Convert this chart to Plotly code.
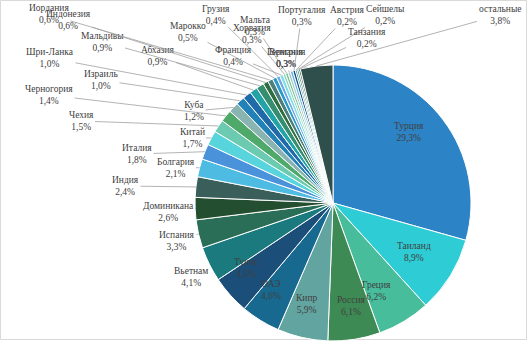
import math
import plotly.graph_objects as go

# ---- data ----
countries = ["Турция", "Таиланд", "Греция", "Россия", "Кипр", "ОАЭ", "Тунис",
             "Вьетнам", "Испания", "Доминикана", "Индия", "Болгария", "Италия",
             "Китай", "Чехия", "Черногория", "Куба", "Израиль", "Шри-Ланка",
             "Абхазия", "Мальдивы", "Индонезия", "Иордания", "Марокко", "Грузия",
             "Франция", "Хорватия", "Мальта", "Венгрия", "Германия", "Португалия",
             "Австрия", "Сейшелы", "Танзания", "остальные"]
shares = [29.3, 8.9, 6.2, 6.1, 5.9, 4.6, 4.5,
          4.1, 3.3, 2.6, 2.4, 2.1, 1.8,
          1.7, 1.5, 1.4, 1.2, 1.0, 1.0,
          0.9, 0.9, 0.6, 0.6, 0.5, 0.4,
          0.4, 0.3, 0.3, 0.3, 0.3, 0.3,
          0.2, 0.2, 0.2, 3.8]

colors = ["#2C83C5", "#2ECCD4", "#47BD9B", "#3E8A54", "#62A49F", "#17698F", "#1B4E79",
          "#1A7A7E", "#2A6E57", "#244E30", "#3A5F5B", "#4DBBE2", "#4A92DA",
          "#57D4DC", "#6BCAAF", "#4FA96A", "#8AB4B1", "#2281B6", "#1F6AA8",
          "#22A3A8", "#358E6F", "#2E6E40", "#4C7F7B", "#2E9CCB", "#6FA9E5",
          "#80E0E6", "#8ED8C2", "#7DC493", "#AACBC8", "#5DB7E8", "#1E4F86",
          "#1F8C8F", "#2B7A5E", "#2A5A36", "#2F4F4D"]

# ---- layout (pixels) ----
W, H = 528, 342
CX, CY, R = 333, 203, 138
INSIDE_FRAC = 0.85
inside_labels = {"Турция", "Таиланд", "Греция", "Россия", "Кипр", "ОАЭ", "Тунис"}
outside_label_pos = {
    "Вьетнам": (191, 276.5), "Испания": (177, 240.5), "Доминикана": (168, 211.5),
    "Индия": (125.5, 186), "Болгария": (175.5, 167.5), "Италия": (137, 154),
    "Китай": (192, 138), "Чехия": (81, 121), "Черногория": (49, 95),
    "Куба": (194, 111), "Израиль": (101, 80), "Шри-Ланка": (50, 58),
    "Абхазия": (157.5, 56), "Мальдивы": (102, 41.5), "Индонезия": (68, 19.5),
    "Иордания": (49, 14.5), "Марокко": (188, 32), "Грузия": (215.5, 14.5),
    "Франция": (233, 56), "Хорватия": (251.5, 34), "Мальта": (255, 26),
    "Венгрия": (286, 58), "Германия": (286, 58), "Португалия": (301.5, 16),
    "Австрия": (347, 16), "Сейшелы": (385, 15), "Танзания": (366.5, 38),
    "остальные": (500, 15),
}

FONT = dict(family="Liberation Serif, Times New Roman, serif", size=9.5, color="#404040")

def fmt(v):
    return f"{v:.1f}".replace(".", ",") + "%"

fig = go.Figure()
fig.add_trace(go.Pie(
    labels=countries, values=shares, sort=False, direction="clockwise", rotation=0,
    marker=dict(colors=colors, line=dict(color="white", width=1)),
    textinfo="none", hoverinfo="skip", showlegend=False,
    domain=dict(x=[(CX - R) / W, (CX + R) / W],
                y=[(H - CY - R) / H, (H - CY + R) / H]),
))

total = sum(shares)
annotations = []
cum = 0.0
for name, v in zip(countries, shares):
    theta = 2 * math.pi * (cum + v / 2) / total
    cum += v
    text = f"{name}<br>{fmt(v)}"
    if name in inside_labels:
        px = CX + INSIDE_FRAC * R * math.sin(theta)
        py = CY - INSIDE_FRAC * R * math.cos(theta)
        annotations.append(dict(x=px / W, y=1 - py / H, xref="paper", yref="paper",
                                text=text, showarrow=False, font=FONT, align="center"))
    else:
        tx = CX + R * math.sin(theta)
        ty = CY - R * math.cos(theta)
        lx, ly = outside_label_pos[name]
        annotations.append(dict(x=tx / W, y=1 - ty / H, xref="paper", yref="paper",
                                ax=lx - tx, ay=ly - ty, axref="pixel", ayref="pixel",
                                text=text, showarrow=True, arrowhead=0, arrowwidth=0.8,
                                arrowcolor="#a0a0a0", standoff=0, startstandoff=0,
                                font=FONT, align="center"))

fig.update_layout(
    width=W, height=H, margin=dict(l=0, r=0, t=0, b=0),
    paper_bgcolor="white", plot_bgcolor="white",
    annotations=annotations,
    shapes=[dict(type="rect", xref="paper", yref="paper", x0=0.5 / W, x1=(W - 1.5) / W,
                 y0=1 - 339.5 / H, y1=1 - 0.5 / H, line=dict(color="#d9d9d9", width=1),
                 layer="below")],
)

fig.write_html("out.html")
